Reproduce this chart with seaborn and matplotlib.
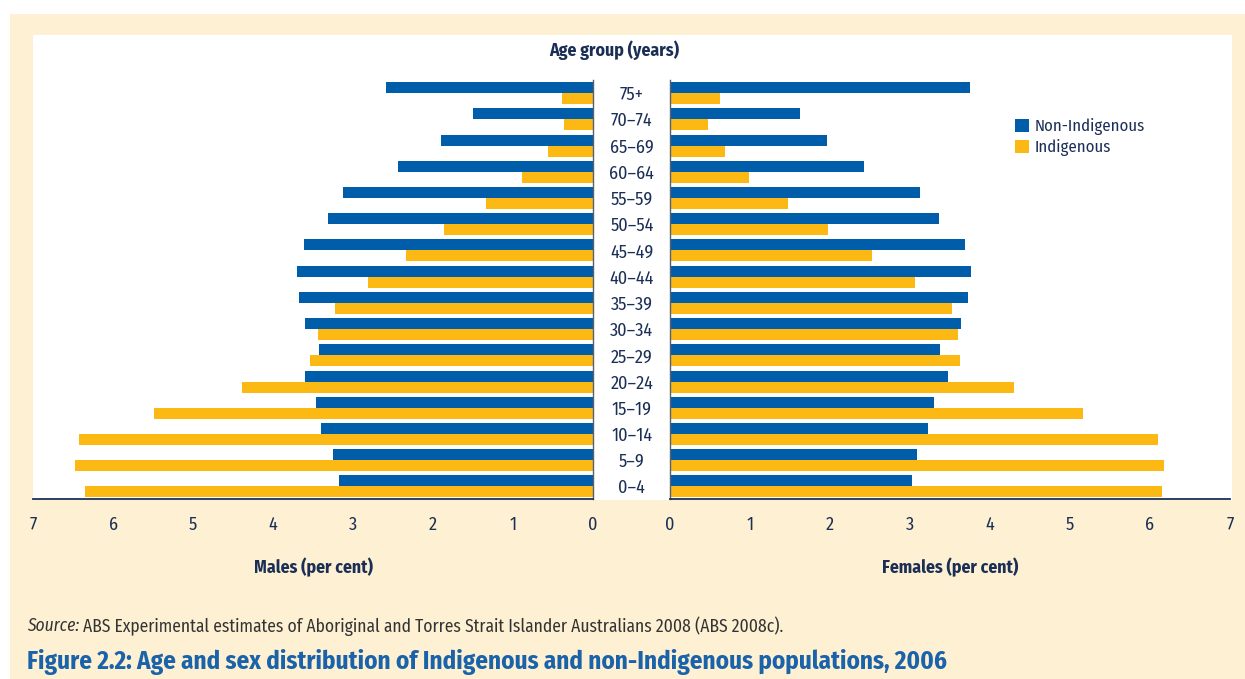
import pandas as pd
import matplotlib
matplotlib.use("Agg")
import matplotlib.pyplot as plt
from matplotlib.patches import Rectangle
import seaborn as sns

# ── Data (per cent of population) ────────────────────────────────────────────
age_groups = ["75+", "70–74", "65–69", "60–64", "55–59", "50–54", "45–49",
              "40–44", "35–39", "30–34", "25–29", "20–24", "15–19", "10–14",
              "5–9", "0–4"]
male_non_indig = [2.59, 1.50, 1.90, 2.44, 3.13, 3.31, 3.61, 3.70,
                  3.68, 3.60, 3.43, 3.60, 3.46, 3.40, 3.25, 3.18]
male_indig = [0.39, 0.36, 0.56, 0.89, 1.34, 1.86, 2.34, 2.81,
              3.22, 3.44, 3.54, 4.39, 5.49, 6.43, 6.47, 6.35]
female_non_indig = [3.75, 1.62, 1.96, 2.43, 3.12, 3.36, 3.69, 3.76,
                    3.72, 3.64, 3.37, 3.48, 3.30, 3.23, 3.09, 3.02]
female_indig = [0.62, 0.48, 0.69, 0.99, 1.47, 1.98, 2.53, 3.06,
                3.52, 3.60, 3.62, 4.30, 5.16, 6.10, 6.17, 6.15]
groups = ["Non-Indigenous", "Indigenous"]
x_ticks = [0, 1, 2, 3, 4, 5, 6, 7]

BLUE = "#005DAA"
GOLD = "#FDB913"
NAVY = "#1B2F56"
CREAM = "#FEF0D2"
TITLE_BLUE = "#1A63AA"
palette = {"Non-Indigenous": BLUE, "Indigenous": GOLD}


def long_form(non_indig, indig):
    return pd.concat([
        pd.DataFrame({"age": age_groups, "group": groups[0], "value": non_indig}),
        pd.DataFrame({"age": age_groups, "group": groups[1], "value": indig}),
    ])


males = long_form(male_non_indig, male_indig)
females = long_form(female_non_indig, female_indig)

sns.set_style("white")
plt.rcParams["font.family"] = ["Fira Sans Condensed", "DejaVu Sans"]

W, H = 1245, 679
fig = plt.figure(figsize=(W / 100, H / 100), dpi=100)
fig.patch.set_facecolor("white")

# cream background + white plotting panel
fig.patches.append(Rectangle((10 / W, 0), 1 - 10 / W, 1 - 14 / H,
                             transform=fig.transFigure, facecolor=CREAM,
                             edgecolor="none", zorder=-10))
fig.patches.append(Rectangle((33 / W, 1 - 500 / H), (1232 - 33) / W,
                             (500 - 35) / H, transform=fig.transFigure,
                             facecolor="white", edgecolor="none", zorder=-9))

ax_top, ax_bot = 80, 499
ax_h = (ax_bot - ax_top) / H
ax_l = fig.add_axes([33 / W, 1 - ax_bot / H, 560 / W, ax_h])
ax_r = fig.add_axes([670 / W, 1 - ax_bot / H, 560 / W, ax_h])

for ax, df, show_leg in [(ax_l, males, False), (ax_r, females, True)]:
    sns.barplot(data=df, y="age", x="value", hue="group", order=age_groups,
                hue_order=groups, palette=palette, orient="h", width=0.84,
                saturation=1, linewidth=0, errorbar=None, legend=show_leg,
                ax=ax)
    ax.set_facecolor("none")
    ax.set_xlim(0, 7)
    ax.set_ylim(len(age_groups) - 0.52, -0.5)
    ax.set_xticks(x_ticks)
    ax.set_xticklabels([str(t) for t in x_ticks])
    ax.tick_params(axis="x", direction="out", length=8, width=1.2,
                   color=NAVY, labelcolor=NAVY, labelsize=13, pad=4)
    ax.set_ylabel("")
    for s in ax.spines.values():
        s.set_visible(False)
    ax.spines["bottom"].set_visible(True)
    ax.spines["bottom"].set_color(NAVY)
    ax.spines["bottom"].set_linewidth(1.3)

ax_l.invert_xaxis()

# centre spines
ax_l.spines["right"].set_visible(True)
ax_l.spines["right"].set_color("#556070")
ax_l.spines["right"].set_linewidth(1.0)
ax_r.spines["left"].set_visible(True)
ax_r.spines["left"].set_color("#556070")
ax_r.spines["left"].set_linewidth(1.0)

# age labels in the gap between the two halves
ax_l.yaxis.tick_right()
ax_l.tick_params(axis="y", length=0, pad=28, labelsize=13, labelcolor=NAVY)
for lbl in ax_l.get_yticklabels():
    lbl.set_horizontalalignment("center")
ax_r.tick_params(axis="y", left=False, labelleft=False)

ax_l.set_xlabel("Males (per cent)", fontsize=12.8, fontweight="bold", color=NAVY)
ax_r.set_xlabel("Females (per cent)", fontsize=12.8, fontweight="bold", color=NAVY)
for ax in (ax_l, ax_r):
    ax.xaxis.set_label_coords(0.5, -(567 - ax_bot) / (ax_bot - ax_top))
    ax.xaxis.label.set_va("center")

# legend
handles, labels = ax_r.get_legend_handles_labels()
ax_r.legend(handles, labels, loc="upper left",
            bbox_to_anchor=((1015 - 670) / 560, (ax_bot - 118) / (ax_bot - ax_top)),
            frameon=False, fontsize=12, labelcolor=NAVY, handlelength=0.85,
            handleheight=0.85, handletextpad=0.35, labelspacing=0.25,
            borderaxespad=0, borderpad=0)

fig.text(614 / W, 1 - 50 / H, "Age group (years)", ha="center", va="center",
         fontsize=12.8, fontweight="bold", color=NAVY)

# source line: italic "Source:" then regular text
renderer = fig.canvas.get_renderer()
src = fig.text(27 / W, 1 - 626 / H, "Source:", ha="left", va="center",
               fontsize=12.6, style="italic", color="#333333")
bb = src.get_window_extent(renderer=renderer)
fig.text((bb.x1 + 4) / W, 1 - 626 / H,
         "ABS Experimental estimates of Aboriginal and Torres Strait Islander "
         "Australians 2008 (ABS 2008c).",
         ha="left", va="center", fontsize=12.6, color="#333333")

fig.text(27 / W, 1 - 662 / H,
         "Figure 2.2: Age and sex distribution of Indigenous and non-Indigenous "
         "populations, 2006",
         ha="left", va="center", fontsize=18, fontweight="bold",
         color=TITLE_BLUE)

fig.savefig("out.png", dpi=100, facecolor=fig.get_facecolor())
